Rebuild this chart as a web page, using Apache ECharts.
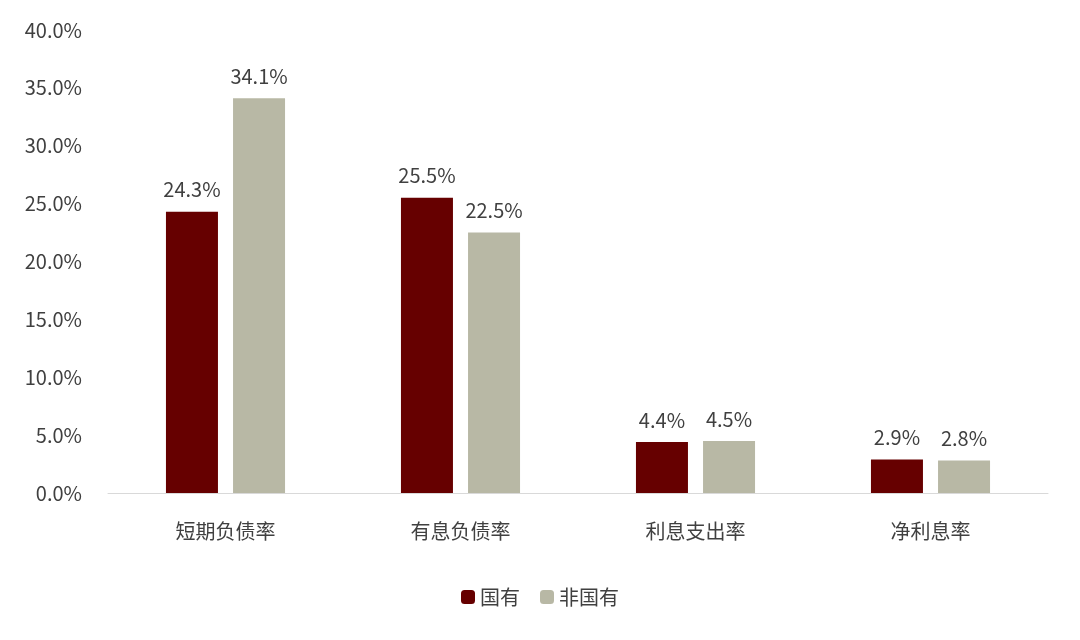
<!DOCTYPE html>
<html>
<head>
<meta charset="utf-8">
<script src="https://cdn.jsdelivr.net/npm/echarts@6/dist/echarts.min.js"></script>
<style>html,body{margin:0;padding:0;background:#fff}#main{width:1080px;height:640px}</style>
</head>
<body>
<div id="main"></div>
<script>
const categories = ['短期负债率', '有息负债率', '利息支出率', '净利息率'];
const stateOwned = [24.3, 25.5, 4.4, 2.9];
const nonState = [34.1, 22.5, 4.5, 2.8];

const font = '"Noto Sans CJK SC", "Noto Sans", sans-serif';
const chart = echarts.init(document.getElementById('main'));
const labelOpt = {
  show: true, position: 'top', distance: 12,
  color: '#404040', fontSize: 20, fontFamily: font,
  formatter: p => p.value.toFixed(1) + '%'
};
chart.setOption({
  animation: false,
  textStyle: { fontFamily: font },
  grid: { left: 108, right: 32, top: 30, bottom: 147 },
  legend: {
    bottom: 28, left: 'center', itemWidth: 14, itemHeight: 14, itemGap: 20,
    textStyle: { fontSize: 20, color: '#404040', fontFamily: font },
    data: ['国有', '非国有']
  },
  xAxis: {
    type: 'category', data: categories,
    axisLine: { lineStyle: { color: '#d9d9d9' } },
    axisTick: { show: false },
    axisLabel: { fontSize: 20, color: '#404040', margin: 28, fontFamily: font }
  },
  yAxis: {
    type: 'value', min: 0, max: 40, interval: 5,
    splitLine: { show: false },
    axisLabel: { fontSize: 20, color: '#404040', margin: 26, fontFamily: font,
      formatter: v => v.toFixed(1) + '%' }
  },
  series: [
    { name: '国有', type: 'bar', data: stateOwned, barWidth: 52, barGap: '29%',
      itemStyle: { color: '#660000' }, label: labelOpt },
    { name: '非国有', type: 'bar', data: nonState, barWidth: 52,
      itemStyle: { color: '#B8B8A5' }, label: labelOpt }
  ]
});
</script>
</body>
</html>
